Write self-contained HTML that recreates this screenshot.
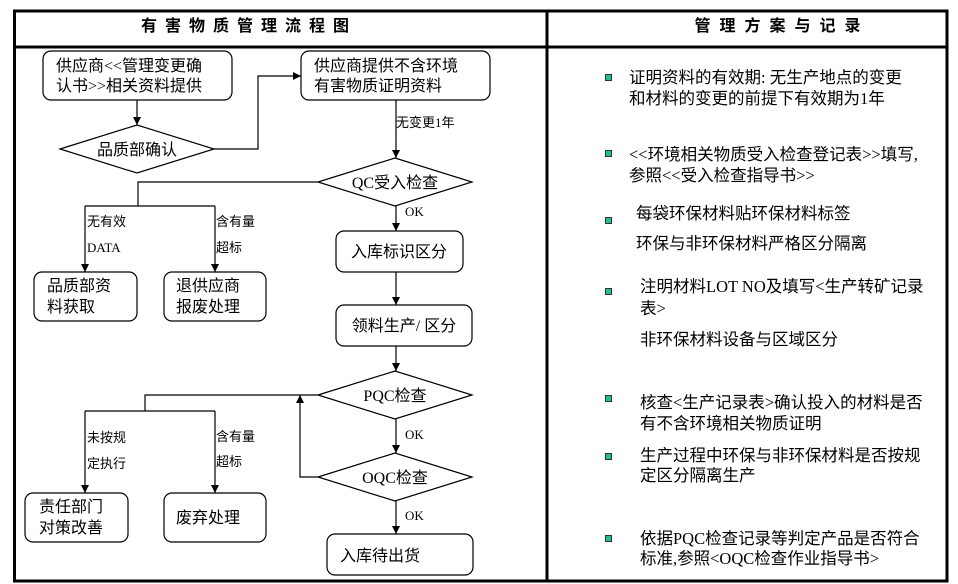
<!DOCTYPE html>
<html><head><meta charset="utf-8"><style>
html,body{margin:0;padding:0;background:#fff;}
svg{display:block;}
text{font-family:"Liberation Serif","Noto Sans CJK SC",sans-serif;fill:#000;}
.b{font-size:16px;}
.l{font-size:13px;}
.r{font-size:16.5px;}
</style></head><body>
<svg width="958" height="584" viewBox="0 0 958 584" xmlns="http://www.w3.org/2000/svg">
<defs><marker id="a" viewBox="0 0 10 10" refX="10" refY="5" markerWidth="8" markerHeight="8" markerUnits="userSpaceOnUse" orient="auto"><path d="M0,0L10,5L0,10z" fill="#000"/></marker></defs>
<rect x="14.5" y="11" width="932.5" height="570" fill="none" stroke="#000" stroke-width="3"/>
<line x1="14" y1="47" x2="947" y2="47" stroke="#000" stroke-width="3"/>
<line x1="547" y1="11" x2="547" y2="581" stroke="#000" stroke-width="3"/>
<text x="249" y="31" text-anchor="middle" style="font-size:16px;font-weight:bold;letter-spacing:8px">有害物质管理流程图</text>
<text x="782" y="31" text-anchor="middle" style="font-size:16px;font-weight:bold;letter-spacing:9px">管理方案与记录</text>
<g fill="none" stroke="#000" stroke-width="1.2">
<rect x="43" y="51" width="189" height="49" rx="8"/>
<rect x="301" y="51" width="189" height="49" rx="8"/>
<polygon points="60,149 137,125 214,149 137,173"/>
<polygon points="318,182 395,158 472,182 395,206"/>
<rect x="34" y="272" width="103" height="49" rx="8"/>
<rect x="164" y="272" width="102" height="49" rx="8"/>
<rect x="336" y="231" width="127" height="41" rx="8"/>
<rect x="336" y="305" width="136" height="41" rx="8"/>
<polygon points="318,395 395,371 472,395 395,419"/>
<polygon points="318,477 395,453 472,477 395,501"/>
<rect x="25" y="493" width="103" height="49" rx="8"/>
<rect x="164" y="493" width="102" height="49" rx="8"/>
<rect x="327" y="534" width="146" height="41" rx="8"/>
<line x1="137" y1="100" x2="137" y2="125" marker-end="url(#a)"/>
<polyline points="214,149 258,149 258,76 301,76" marker-end="url(#a)"/>
<line x1="396" y1="100" x2="396" y2="158" marker-end="url(#a)"/>
<polyline points="318,182 138,182 138,206"/>
<line x1="85" y1="206" x2="215" y2="206"/>
<line x1="85" y1="206" x2="85" y2="272" marker-end="url(#a)"/>
<line x1="215" y1="206" x2="215" y2="272" marker-end="url(#a)"/>
<line x1="396" y1="206" x2="396" y2="231" marker-end="url(#a)"/>
<line x1="396" y1="272" x2="396" y2="305" marker-end="url(#a)"/>
<line x1="396" y1="346" x2="396" y2="371" marker-end="url(#a)"/>
<polyline points="318,395 145,395 145,411"/>
<line x1="85" y1="411" x2="215" y2="411"/>
<line x1="85" y1="411" x2="85" y2="493" marker-end="url(#a)"/>
<line x1="215" y1="411" x2="215" y2="493" marker-end="url(#a)"/>
<line x1="396" y1="419" x2="396" y2="453" marker-end="url(#a)"/>
<polyline points="318,477 300,477 300,395" marker-end="url(#a)"/>
<line x1="396" y1="501" x2="396" y2="534" marker-end="url(#a)"/>
</g>
<text class="b" x="56" y="71">供应商&lt;&lt;管理变更确</text>
<text class="b" x="56" y="91">认书&gt;&gt;相关资料提供</text>
<text class="b" x="314" y="71">供应商提供不含环境</text>
<text class="b" x="314" y="91">有害物质证明资料</text>
<text class="b" x="137" y="155" text-anchor="middle">品质部确认</text>
<text class="l" x="396" y="127">无变更1年</text>
<text class="b" x="395" y="188" text-anchor="middle">QC受入检查</text>
<text class="l" x="87" y="226">无有效</text>
<text class="l" x="87" y="252">DATA</text>
<text class="l" x="216" y="226">含有量</text>
<text class="l" x="216" y="252">超标</text>
<text class="l" x="405" y="216">OK</text>
<text class="b" x="47" y="291">品质部资</text>
<text class="b" x="47" y="312">料获取</text>
<text class="b" x="176" y="291">退供应商</text>
<text class="b" x="176" y="312">报废处理</text>
<text class="b" x="399" y="257" text-anchor="middle">入库标识区分</text>
<text class="b" x="404" y="331" text-anchor="middle">领料生产/ 区分</text>
<text class="b" x="395" y="401" text-anchor="middle">PQC检查</text>
<text class="l" x="87" y="442">未按规</text>
<text class="l" x="87" y="468">定执行</text>
<text class="l" x="216" y="441">含有量</text>
<text class="l" x="216" y="466">超标</text>
<text class="l" x="405" y="439">OK</text>
<text class="b" x="395" y="483" text-anchor="middle">OQC检查</text>
<text class="l" x="405" y="520">OK</text>
<text class="b" x="39" y="512">责任部门</text>
<text class="b" x="39" y="533">对策改善</text>
<text class="b" x="176" y="523">废弃处理</text>
<text class="b" x="340" y="561">入库待出货</text>
<g fill="#20c090" stroke="#333" stroke-width="1">
<rect x="605.5" y="74.5" width="6" height="6"/>
<rect x="605.5" y="150.5" width="6" height="6"/>
<rect x="605.5" y="217.5" width="6" height="6"/>
<rect x="605.5" y="288.5" width="6" height="6"/>
<rect x="605.5" y="395.5" width="6" height="6"/>
<rect x="605.5" y="453.5" width="6" height="6"/>
<rect x="605.5" y="535.5" width="6" height="6"/>
</g>
<text class="r" x="629" y="83">证明资料的有效期: 无生产地点的变更</text>
<text class="r" x="629" y="104">和材料的变更的前提下有效期为1年</text>
<text class="r" x="629" y="160">&lt;&lt;环境相关物质受入检查登记表&gt;&gt;填写,</text>
<text class="r" x="629" y="181">参照&lt;&lt;受入检查指导书&gt;&gt;</text>
<text class="r" x="636" y="219">每袋环保材料贴环保材料标签</text>
<text class="r" x="636" y="249">环保与非环保材料严格区分隔离</text>
<text class="r" x="640" y="292">注明材料LOT NO及填写&lt;生产转矿记录</text>
<text class="r" x="640" y="314">表&gt;</text>
<text class="r" x="640" y="345">非环保材料设备与区域区分</text>
<text class="r" x="640" y="408">核查&lt;生产记录表&gt;确认投入的材料是否</text>
<text class="r" x="640" y="429">有不含环境相关物质证明</text>
<text class="r" x="640" y="461">生产过程中环保与非环保材料是否按规</text>
<text class="r" x="640" y="481">定区分隔离生产</text>
<text class="r" x="640" y="544">依据PQC检查记录等判定产品是否符合</text>
<text class="r" x="640" y="564">标准,参照&lt;OQC检查作业指导书&gt;</text>
</svg>
</body></html>
